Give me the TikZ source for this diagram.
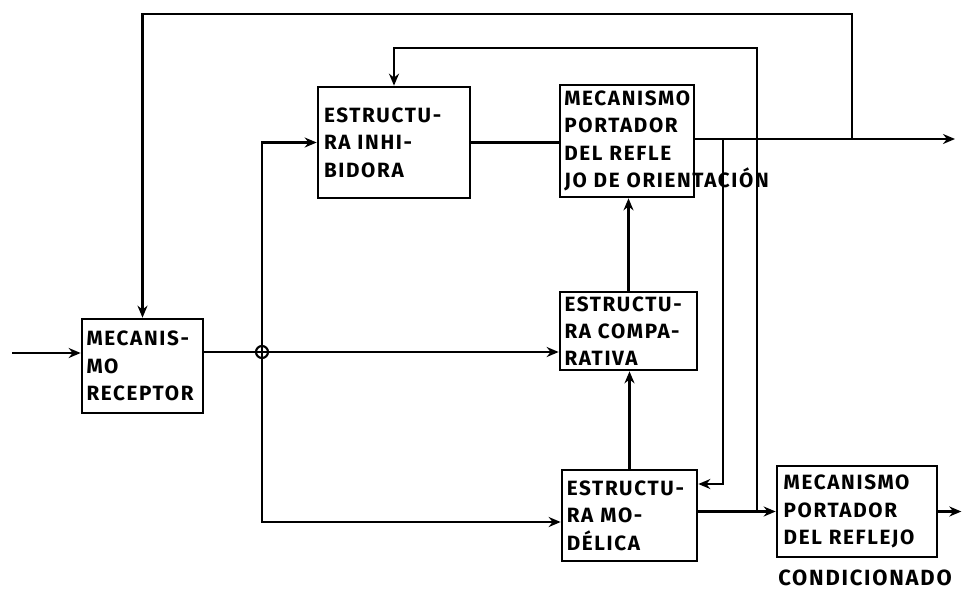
\documentclass[tikz,border=0pt]{standalone}
\usepackage{fontspec}
\setmainfont{Fira Sans}[LetterSpace=8]
\usetikzlibrary{arrows.meta}
\begin{document}
\begin{tikzpicture}[x=0.75pt,y=-0.75pt,
  box/.style={draw, line width=2pt, inner sep=0pt, align=left,
    font=\fontsize{15.5}{20.5}\selectfont\bfseries},
  ln/.style={line width=1.6pt},
  arr/.style={ln, -{Stealth[length=9pt,width=7.5pt]}},
  lbl/.style={font=\fontsize{16.5}{20}\selectfont\bfseries, inner sep=0pt}]
\useasboundingbox (0,0) rectangle (963,590);
% boxes
\node[box, minimum width=90.75pt, minimum height=70.5pt, text width=84pt] (rec) at (142.5,366) {MECANIS-\\MO\\RECEPTOR};
\node[box, minimum width=114pt, minimum height=83.25pt, text width=105pt] (inh) at (394,142.5) {ESTRUCTU-\\RA INHI-\\BIDORA};
\node[box, minimum width=100.5pt, minimum height=84pt, text width=94pt] (por) at (627,141) {MECANISMO\\PORTADOR\\DEL REFLE\\\mbox{JO DE ORIENTACIÓN}};
\node[box, minimum width=102.75pt, minimum height=58.5pt, text width=96pt] (com) at (628.5,331) {ESTRUCTU-\\RA COMPA-\\RATIVA};
\node[box, minimum width=101.25pt, minimum height=68.25pt, text width=94pt] (mod) at (629.5,515.5) {ESTRUCTU-\\RA MO-\\DÉLICA};
\node[box, minimum width=120pt, minimum height=68.25pt, text width=110pt] (con) at (857,511.5) {MECANISMO\\PORTADOR\\DEL REFLEJO};
\node[lbl] (lab) at (865,578) {CONDICIONADO};
% coordinates
\coordinate (in) at (12,353);
\coordinate (J) at (262,352);
\coordinate (Jb) at (262,522);
\coordinate (out) at (955,139);
\coordinate (topA) at (852,14);
\coordinate (fb1) at (723,139);
\coordinate (fb2) at (723,484);
\coordinate (fb3) at (757,48);
% connectors
\draw[arr] (in) -- (in -| rec.west);
\draw[arr] (J -| rec.east) -- (J -| com.west);
\draw[arr] (J) |- (inh.west);
\draw[arr] (J) -- (Jb) -- (Jb -| mod.west);
\draw[ln] (inh.east) -- (inh.east -| por.west);
\draw[arr] (out -| por.east) -- (out);
\draw[arr] (com.north) -- (com.north |- por.south);
\draw[arr] (mod.north) -- (mod.north |- com.south);
\draw[arr] (out -| topA) -- (topA) -| (rec.north);
\draw[arr] (fb1) -- (fb2) -- (fb2 -| mod.east);
\draw[arr] (con.west -| mod.east) -- (con.west);
\draw[arr] (fb3 |- con.west) -- (fb3) -| (inh.north);
\draw[arr] (con.east) -- ++(23,0);
\draw[ln] (J) circle[radius=4.5pt];
\end{tikzpicture}
\end{document}
